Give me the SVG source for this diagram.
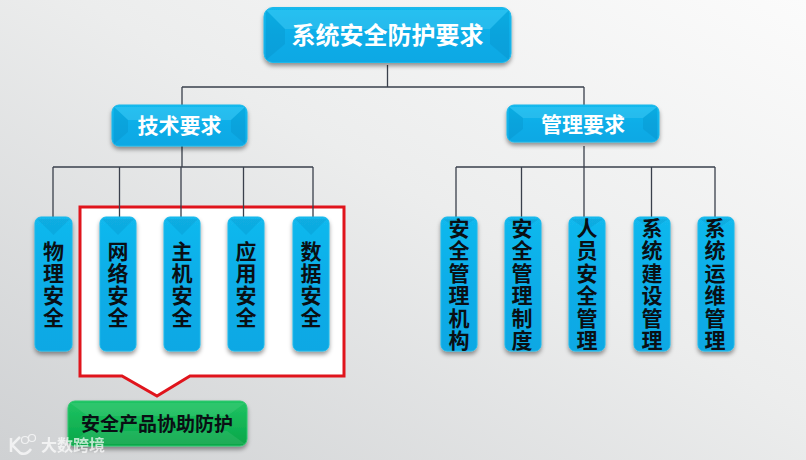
<svg xmlns="http://www.w3.org/2000/svg" width="806" height="460" viewBox="0 0 806 460">
<style>
text{font-family:"Noto Sans CJK SC","Liberation Sans",sans-serif;font-weight:700;text-anchor:middle}
.w{fill:#fff}.k{fill:#0a0f14}
.b{fill:url(#blue);stroke:#1cb8ea;stroke-width:1;filter:url(#sh)}
.g{fill:url(#green);stroke:#2fc76e;stroke-width:1;filter:url(#sh)}
.hi{fill:#7fe0fa;opacity:.22}.lo{fill:#006f9f;opacity:.16}.gh{fill:#fff;opacity:.08}
.l{stroke:#3a404c;stroke-width:1.300;fill:none}
text.v{font-size:21px;writing-mode:vertical-rl;text-orientation:upright;text-anchor:start}
</style>
<defs>
<linearGradient id="bg" x1="0" y1="1" x2="1" y2="0"><stop offset="0" stop-color="#cfd1d3"/><stop offset=".55" stop-color="#eceded"/><stop offset="1" stop-color="#fbfbfb"/></linearGradient>
<linearGradient id="blue" x1="0" y1="0" x2="0" y2="1"><stop offset="0" stop-color="#12b9ee"/><stop offset=".5" stop-color="#0bade8"/><stop offset="1" stop-color="#0ca8e4"/></linearGradient>
<linearGradient id="green" x1="0" y1="0" x2="0" y2="1"><stop offset="0" stop-color="#1fc463"/><stop offset="1" stop-color="#08a548"/></linearGradient>
<filter id="sh" x="-20%" y="-20%" width="140%" height="140%"><feDropShadow dx="0" dy="3" stdDeviation="2" flood-color="#000" flood-opacity=".4"/></filter>
</defs>
<rect width="806" height="460" fill="url(#bg)"/>
<polygon points="80,207 344,207 344,376 190,376 157,396 122,376 80,376" fill="#fff" stroke="#e0141c" stroke-width="3"/>
<g id="connectors" class="l">
<path d="M387.500 65V87M182 87H584M182 87V105M584 87V105"/>
<path d="M182 146V167M53 167H313M53 167V217M119.500 167V217M181 167V217M243.500 167V217M313 167V217"/>
<path d="M584 146V167M456 167H715M456 167V217M521.500 167V217M584 167V217M651.500 167V217M715 167V217"/>
</g>
<g id="n-top"><rect class="b" x="264" y="7.500" width="247" height="55" rx="9"/><path class="lo" d="M266 10L285 29V44L266 60Z"/><path class="lo" d="M509 10L490 29V44L509 60Z"/><path class="hi" d="M266 10L285 29H490L509 10Z"/><text class="w" x="387.500" y="44" font-size="24">系统安全防护要求</text></g>
<g id="n-tech"><rect class="b" x="112" y="105" width="135" height="41" rx="7"/><path class="hi" d="M114 107L128 120H231L245 107Z"/><path class="lo" d="M114 107L128 120V132L114 144Z"/><path class="lo" d="M245 107L231 120V132L245 144Z"/><text class="w" x="179.500" y="133" font-size="21">技术要求</text></g>
<g id="n-mgmt"><rect class="b" x="507" y="105" width="152" height="37" rx="7"/><path class="hi" d="M509 107L523 118H643L657 107Z"/><path class="lo" d="M509 107L523 118V129L509 140Z"/><path class="lo" d="M657 107L643 118V129L657 140Z"/><text class="w" x="583" y="132" font-size="21">管理要求</text></g>
<g id="n-wl"><rect class="b" x="35" y="217" width="37" height="134" rx="6"/><path class="lo" d="M37 219L53.500 235L70 219Z"/><text class="k v"><tspan x="53.500" y="240.500">物</tspan><tspan x="53.500" y="262.500">理</tspan><tspan x="53.500" y="284.500">安</tspan><tspan x="53.500" y="306.500">全</tspan></text></g>
<g id="n-wlaq"><rect class="b" x="100" y="217" width="36" height="134" rx="6"/><path class="lo" d="M102 219L118 235L134 219Z"/><text class="k v"><tspan x="118" y="240.500">网</tspan><tspan x="118" y="262.500">络</tspan><tspan x="118" y="284.500">安</tspan><tspan x="118" y="306.500">全</tspan></text></g>
<g id="n-zj"><rect class="b" x="164" y="217" width="36" height="134" rx="6"/><path class="lo" d="M166 219L182 235L198 219Z"/><text class="k v"><tspan x="182" y="240.500">主</tspan><tspan x="182" y="262.500">机</tspan><tspan x="182" y="284.500">安</tspan><tspan x="182" y="306.500">全</tspan></text></g>
<g id="n-yy"><rect class="b" x="228" y="217" width="36" height="134" rx="6"/><path class="lo" d="M230 219L246 235L262 219Z"/><text class="k v"><tspan x="246" y="240.500">应</tspan><tspan x="246" y="262.500">用</tspan><tspan x="246" y="284.500">安</tspan><tspan x="246" y="306.500">全</tspan></text></g>
<g id="n-sj"><rect class="b" x="293" y="217" width="36" height="134" rx="6"/><path class="lo" d="M295 219L311 235L327 219Z"/><text class="k v"><tspan x="311" y="240.500">数</tspan><tspan x="311" y="262.500">据</tspan><tspan x="311" y="284.500">安</tspan><tspan x="311" y="306.500">全</tspan></text></g>
<g id="n-jg"><rect class="b" x="441" y="217" width="36" height="134" rx="6"/><path class="lo" d="M443 219L459 230L475 219Z"/><text class="k v"><tspan x="459" y="217.500">安</tspan><tspan x="459" y="240">全</tspan><tspan x="459" y="262.500">管</tspan><tspan x="459" y="285">理</tspan><tspan x="459" y="307.500">机</tspan><tspan x="459" y="330">构</tspan></text></g>
<g id="n-zd"><rect class="b" x="505" y="217" width="36" height="134" rx="6"/><path class="lo" d="M507 219L523 230L539 219Z"/><text class="k v"><tspan x="522" y="217.500">安</tspan><tspan x="522" y="240">全</tspan><tspan x="522" y="262.500">管</tspan><tspan x="522" y="285">理</tspan><tspan x="522" y="307.500">制</tspan><tspan x="522" y="330">度</tspan></text></g>
<g id="n-ry"><rect class="b" x="569" y="217" width="36" height="134" rx="6"/><path class="lo" d="M571 219L587 230L603 219Z"/><text class="k v"><tspan x="587" y="217.500">人</tspan><tspan x="587" y="240">员</tspan><tspan x="587" y="262.500">安</tspan><tspan x="587" y="285">全</tspan><tspan x="587" y="307.500">管</tspan><tspan x="587" y="330">理</tspan></text></g>
<g id="n-js"><rect class="b" x="634" y="217" width="36" height="134" rx="6"/><path class="lo" d="M636 219L652 230L668 219Z"/><text class="k v"><tspan x="652" y="217.500">系</tspan><tspan x="652" y="240">统</tspan><tspan x="652" y="262.500">建</tspan><tspan x="652" y="285">设</tspan><tspan x="652" y="307.500">管</tspan><tspan x="652" y="330">理</tspan></text></g>
<g id="n-yw"><rect class="b" x="698" y="217" width="36" height="134" rx="6"/><path class="lo" d="M700 219L716 230L732 219Z"/><text class="k v"><tspan x="715" y="217.500">系</tspan><tspan x="715" y="240">统</tspan><tspan x="715" y="262.500">运</tspan><tspan x="715" y="285">维</tspan><tspan x="715" y="307.500">管</tspan><tspan x="715" y="330">理</tspan></text></g>
<g id="n-cp"><rect class="g" x="68" y="401" width="179" height="45" rx="7"/><path class="gh" d="M70 403L88 416H227L245 403Z"/><path class="gh" d="M70 444L88 431H227L245 444Z"/><text class="k" x="157" y="431" font-size="19">安全产品协助防护</text></g>
<g id="watermark" opacity=".7"><path d="M11 438V452M20 437L12 445L20 453C25 455 29 452 31 449" fill="none" stroke="#fff" stroke-width="2.500"/><circle cx="25" cy="440" r="3.500" fill="none" stroke="#fff" stroke-width="1.200"/><circle cx="32" cy="438" r="3.500" fill="none" stroke="#fff" stroke-width="1.200"/><text x="73" y="451" font-size="16" font-weight="400" fill="#fff">大数跨境</text></g>
</svg>
